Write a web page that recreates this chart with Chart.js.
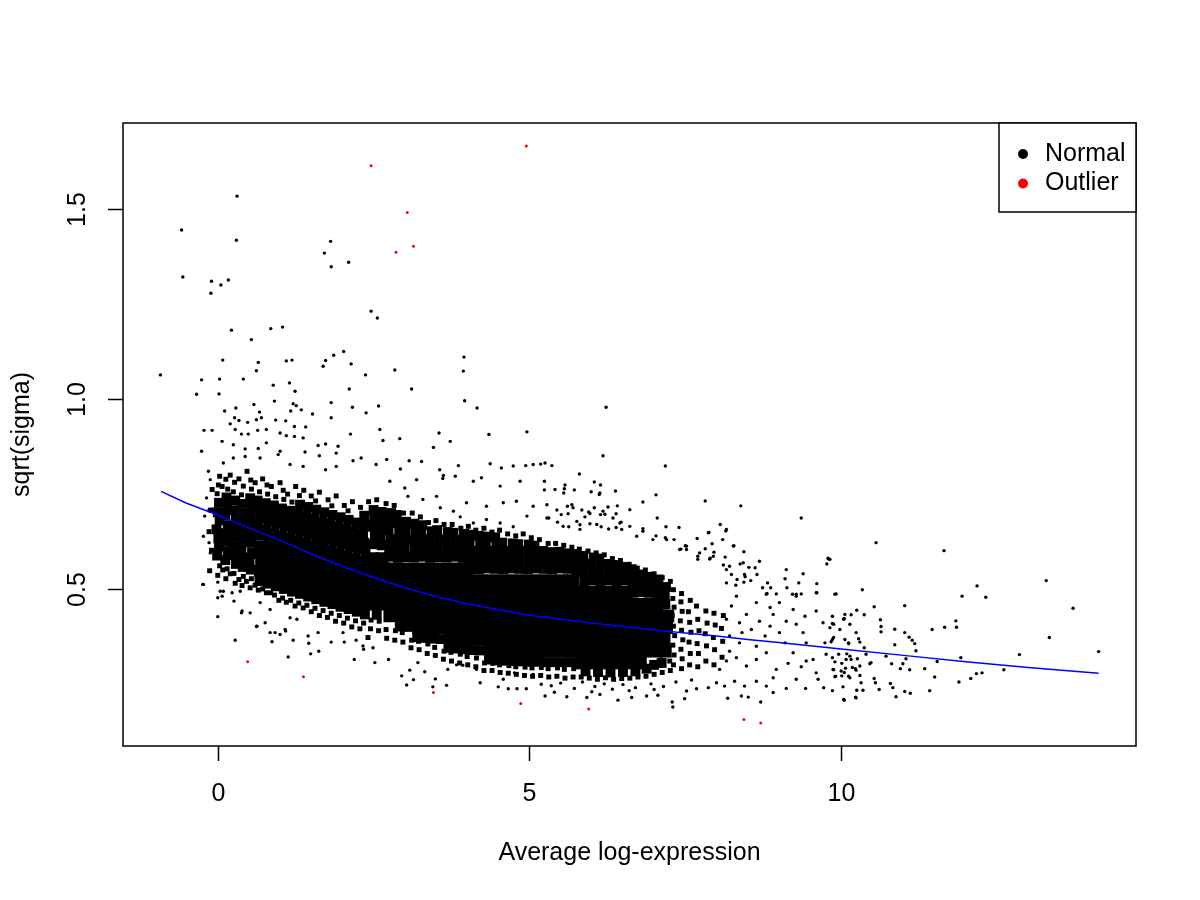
<!DOCTYPE html>
<html>
<head>
<meta charset="utf-8">
<script src="https://cdn.jsdelivr.net/npm/chart.js@4.4.1/dist/chart.umd.min.js"></script>
<style>
  html, body { margin: 0; padding: 0; background: #ffffff; }
  #wrap { width: 1200px; height: 900px; }
</style>
</head>
<body>
<div id="wrap"><canvas id="sa" width="1200" height="900"></canvas></div>
<script>
// plotSA style chart: sqrt(sigma) against average log-expression

var xTicks = [0, 5, 10];
var yTicks = [0.5, 1.0, 1.5];
var xTitle = "Average log-expression";
var yTitle = "sqrt(sigma)";
var legendLabels = ["Normal", "Outlier"];

// outliers (red), flat x,y pairs
var outlierXY = [
  2.46,1.615, 4.95,1.667, 3.04,1.492, 2.86,1.387, 3.14,1.403, 0.48,0.308,
  1.375,0.269, 3.46,0.227, 4.86,0.198, 5.95,0.184, 8.44,0.156, 8.71,0.147
];

// single genes that stand apart from the cloud
var normalXY = [
  0.31,1.535, -0.58,1.446, 0.30,1.419, 1.81,1.416, 1.71,1.385, 1.82,1.349, 2.10,1.361, -0.56,1.322,
  -0.10,1.311, 0.05,1.301, 0.17,1.314, -0.11,1.279, 2.46,1.232, 2.56,1.214, 0.22,1.182, 0.54,1.157,
  0.85,1.186, 1.04,1.190, 0.08,1.103, 0.65,1.097, 1.10,1.101, 1.19,1.103, 1.73,1.102, 1.86,1.116,
  2.02,1.126, 1.69,1.087, 2.14,1.093, 2.37,1.064, 2.84,1.077, 3.95,1.111, 3.94,1.074, -0.92,1.064,
  -0.26,1.051, 0.03,1.053, 0.41,1.053, 0.62,1.075, 0.89,1.037, 1.15,1.043, 1.24,1.021, 2.11,1.027,
  3.11,1.027, -0.34,1.013, 0.02,1.014, 3.96,0.996, 4.16,0.977, 0.58,0.986, 0.29,0.977, 0.91,0.995,
  1.21,0.988, 1.26,0.983, 1.82,0.991, 2.16,0.979, 2.58,0.982, 0.11,0.969, 0.67,0.966, 1.17,0.969,
  1.34,0.972, 1.52,0.961, 2.38,0.964, 1.82,0.951, 0.27,0.951, 0.62,0.946, 0.93,0.945, 1.09,0.943,
  0.70,0.951, 4.96,0.914, 4.35,0.907,
  6.23,0.979, 6.18,0.851, 7.18,0.824, 5.36,0.825, 5.25,0.832, 5.18,0.829, 5.80,0.803, 5.24,0.784,
  5.57,0.774, 6.04,0.782, 6.14,0.774, 5.24,0.761, 5.56,0.764, 5.72,0.761, 5.55,0.753, 5.99,0.756,
  6.12,0.749, 6.38,0.758, 7.03,0.748, 6.82,0.729, 7.82,0.732, 8.39,0.719, 9.36,0.687, 7.05,0.687,
  7.19,0.664, 7.40,0.662, 8.06,0.670, 7.88,0.649, 8.15,0.653, 10.56,0.622, 11.65,0.601, 9.79,0.581,
  8.44,0.598, 8.28,0.614, 8.10,0.630, 7.93,0.619, 7.69,0.633, 7.32,0.630, 7.50,0.614, 7.43,0.605,
  7.82,0.606, 7.96,0.597, 8.14,0.584, 7.90,0.581, 7.18,0.635, 7.03,0.640, 6.82,0.659,
  5.28,0.722, 5.44,0.708, 5.61,0.718, 5.68,0.722, 5.84,0.708, 5.95,0.703, 6.04,0.714, 6.26,0.716,
  6.41,0.719, 6.14,0.696, 6.21,0.697, 6.39,0.698, 5.51,0.696, 5.62,0.698, 5.31,0.687, 5.89,0.690,
  5.76,0.678, 5.97,0.672, 6.15,0.664, 6.27,0.658, 6.47,0.676, 6.48,0.657, 6.39,0.662, 5.81,0.669,
  5.45,0.676, 5.63,0.664,
  13.29,0.522, 12.18,0.508, 11.94,0.481, 12.32,0.478, 13.72,0.449, 13.34,0.372, 14.13,0.335, 12.86,0.327,
  12.61,0.287, 12.26,0.279, 12.17,0.277, 12.08,0.264, 11.89,0.255, 11.92,0.319, 11.50,0.268, 11.42,0.232,
  11.54,0.309, 11.84,0.416, 11.85,0.399, 11.66,0.399, 11.46,0.393, 11.34,0.290, 11.20,0.337, 11.18,0.356,
  11.14,0.365, 11.09,0.373, 11.02,0.385, 10.86,0.394, 10.64,0.387, 10.64,0.401, 10.63,0.419, 10.53,0.453,
  11.02,0.456, 10.37,0.432, 10.25,0.444, 10.34,0.498, 9.92,0.487, 9.82,0.578, 10.86,0.353, 11.04,0.316,
  10.95,0.290, 11.10,0.287, 10.99,0.303, 10.81,0.303, 10.72,0.323, 10.40,0.328, 10.46,0.303, 10.48,0.306,
  10.53,0.264, 10.55,0.253, 10.79,0.251, 10.83,0.240, 10.61,0.235, 11.02,0.230, 11.11,0.225, 10.88,0.216,
  10.25,0.233, 10.35,0.233, 10.24,0.213, 10.05,0.207, 10.03,0.242, 9.86,0.232, 10.32,0.253, 10.30,0.272,
  10.12,0.270, 10.01,0.271, 9.91,0.270, 9.88,0.287, 10.07,0.291, 10.05,0.280, 10.24,0.286, 10.18,0.293,
  10.30,0.297, 10.16,0.314, 10.26,0.316, 10.01,0.304, 9.90,0.308, 9.96,0.328, 10.09,0.329, 10.12,0.356,
  10.28,0.369, 10.30,0.360, 10.37,0.345, 9.88,0.372, 9.84,0.361, 9.88,0.407, 9.86,0.409, 10.05,0.422,
  10.14,0.407, 10.16,0.432, 10.06,0.433,
  9.80,0.579, 9.77,0.566, 9.12,0.551, 9.39,0.540, 9.10,0.527, 9.32,0.516, 9.13,0.503, 9.61,0.514,
  9.61,0.490, 9.36,0.487, 8.82,0.516, 8.87,0.503, 8.69,0.573, 8.62,0.556, 8.65,0.538, 8.38,0.566,
  8.52,0.557, 8.33,0.525, 8.16,0.551, 8.46,0.532, 8.55,0.522, 8.74,0.503, 8.81,0.488, 8.96,0.487,
  9.22,0.486, 9.28,0.486, 7.52,0.604, 7.73,0.595, 7.70,0.586, 7.89,0.579, 8.11,0.563, 8.24,0.538,
  8.45,0.538, 8.16,0.516, 8.31,0.510, 8.44,0.518,
  0.34,0.944, 0.48,0.939, 0.20,0.935, -0.22,0.918, -0.09,0.918, 0.28,0.920, 0.38,0.908, 0.49,0.908,
  0.64,0.918, 0.78,0.920, 1.23,0.928, 1.41,0.927, 1.00,0.911, 1.10,0.904, 1.23,0.902, 1.37,0.898,
  2.13,0.908, 2.60,0.920, 2.92,0.896, 3.55,0.911, 3.46,0.873, 2.65,0.891, -0.26,0.863, 0.07,0.889,
  0.25,0.880, 0.44,0.869, 0.65,0.870, 0.78,0.885, 1.00,0.863, 1.40,0.861, 1.61,0.878, 1.73,0.882,
  1.93,0.876, 1.63,0.851, 1.90,0.858, 2.17,0.838, 2.30,0.845, 2.71,0.841, 3.07,0.838, 3.27,0.836,
  2.93,0.816, 2.54,0.828, 1.73,0.814, 1.90,0.823, 1.37,0.823, 0.09,0.832, 0.25,0.845, 0.44,0.849,
  0.68,0.845, 0.97,0.854, 1.16,0.828, 3.61,0.791, 3.56,0.814, 3.19,0.788, 3.00,0.766, 2.76,0.784,
  3.05,0.744, 3.29,0.736, 3.51,0.744,
  -0.12,0.788, -0.15,0.810, -0.18,0.740, -0.14,0.709, -0.21,0.692, -0.23,0.639, -0.14,0.622, -0.12,0.595,
  -0.23,0.512, 0.00,0.518, 0.09,0.494, 0.07,0.481,
  4.37,0.830, 4.55,0.819, 4.74,0.824, 5.06,0.828, 4.94,0.825, 3.86,0.825, 3.73,0.889, 3.62,0.799,
  3.81,0.797, 4.10,0.784, 4.23,0.793, 4.53,0.771, 4.85,0.784, 5.41,0.762, 6.13,0.753, 6.61,0.709,
  6.82,0.652, 7.87,0.648, 8.16,0.657, 8.27,0.613, 7.41,0.604, 7.52,0.613, 6.34,0.687, 6.45,0.674,
  5.97,0.699, 6.18,0.705, 5.70,0.714, 5.06,0.718, 4.79,0.731, 4.58,0.727, 4.31,0.718, 3.99,0.727,
  3.78,0.705, 3.57,0.714, 4.96,0.692, 5.28,0.687, 4.53,0.674, 4.74,0.664, 4.31,0.683, 4.10,0.674,
  3.89,0.690, 5.54,0.665, 5.81,0.657, 6.08,0.670, 6.61,0.665, 6.72,0.639, 6.98,0.630, 7.20,0.630,
  7.70,0.578, 7.95,0.586, 8.21,0.560, 8.43,0.569,
  0.00,0.427, 0.28,0.365, 0.62,0.401, 0.87,0.361, 1.13,0.321, 1.21,0.365, 1.46,0.357, 1.49,0.329,
  1.62,0.336, 1.82,0.360, 2.03,0.360, 2.19,0.314, 2.22,0.365, 2.34,0.341, 2.52,0.306, 2.74,0.314,
  2.95,0.271, 3.03,0.247, 3.14,0.261, 3.32,0.282, 3.49,0.263, 3.45,0.242, 3.67,0.246, 3.69,0.288,
  4.21,0.253, 4.50,0.242, 4.66,0.237, 4.80,0.237, 4.95,0.237, 5.19,0.249, 3.21,0.306, 3.08,0.286,
  3.83,0.300, 3.93,0.299, 4.15,0.288, 4.58,0.262, 4.76,0.279, 5.06,0.275, 0.00,0.477, 0.38,0.437,
  0.52,0.437, 0.26,0.468, 0.84,0.385, 0.92,0.385, 1.00,0.380, 1.09,0.389, 1.45,0.376, 1.61,0.385,
  2.01,0.385, 2.33,0.350, 2.49,0.345,
  -0.24,0.512, 0.04,0.494, 0.23,0.490, 0.36,0.494, 0.39,0.442, 0.63,0.402, 0.76,0.411, 1.08,0.393,
  1.27,0.420, 1.16,0.424, 0.68,0.464, 0.84,0.446,
  5.25,0.218, 5.60,0.216, 5.92,0.214, 6.13,0.222, 6.42,0.207, 6.64,0.214, 6.88,0.218, 7.06,0.220,
  7.29,0.202, 7.30,0.189, 7.49,0.211, 8.18,0.212, 8.40,0.218, 8.51,0.215, 8.71,0.202, 8.91,0.227,
  9.12,0.238, 9.43,0.238, 9.72,0.240, 10.04,0.209, 10.23,0.215, 9.28,0.262, 9.63,0.262, 9.90,0.269,
  10.14,0.266, 10.23,0.290, 10.00,0.284, 9.87,0.288, 9.60,0.279, 9.36,0.295, 9.15,0.304, 8.96,0.288,
  8.91,0.266, 8.80,0.244, 8.64,0.257, 8.45,0.244, 8.29,0.257, 8.13,0.244, 8.00,0.253, 7.87,0.240,
  7.68,0.237, 7.52,0.231, 9.44,0.310, 9.55,0.314, 9.76,0.328, 9.86,0.319, 10.08,0.314, 9.74,0.358,
  9.86,0.367, 10.12,0.358, 10.24,0.385, 10.04,0.420, 9.86,0.428, 9.60,0.442, 9.90,0.486, 9.60,0.490,
  9.42,0.428, 9.28,0.407, 9.39,0.385, 9.44,0.358, 9.23,0.332, 9.10,0.358, 9.01,0.385, 9.12,0.415,
  9.23,0.446, 9.01,0.464, 9.28,0.481, 8.91,0.433, 8.86,0.402, 8.78,0.376, 8.80,0.332, 8.64,0.314,
  8.48,0.297, 8.32,0.319, 8.64,0.349, 8.56,0.393, 8.69,0.415, 8.86,0.451, 8.64,0.464, 8.48,0.433,
  8.37,0.411, 8.41,0.385, 8.37,0.358, 8.21,0.336, 8.16,0.310, 8.05,0.288, 8.24,0.455, 8.32,0.481,
  8.16,0.420, 8.21,0.376, 8.80,0.486, 9.71,0.411, 9.82,0.398, 9.98,0.393, 10.06,0.367, 10.14,0.323,
  5.35,0.245, 5.50,0.252, 5.72,0.238, 5.85,0.255, 6.05,0.243, 6.20,0.250, 6.33,0.236, 6.50,0.248,
  6.70,0.240, 6.95,0.250, 7.15,0.243, 7.35,0.255, 7.60,0.260, 5.40,0.228, 6.00,0.229, 6.60,0.232,
  7.00,0.235
];

// the thinner rim of the cloud
var fringeXY = [
  -0.13,.548, -0.10,.602, -0.14,.651, -0.11,.708, -0.09,.762,
  0.00,.536, 0.03,.561, -0.01,.751, 0.01,.774, 0.03,.797,
  0.13,.527, 0.15,.553, 0.16,.763, 0.13,.789,
  0.28,.515, 0.26,.541, 0.25,.756, 0.27,.781,
  0.39,.509, 0.41,.533, 0.38,.748, 0.41,.771,
  0.52,.503, 0.54,.527, 0.54,.763, 0.53,.787,
  0.65,.497, 0.67,.756, 0.78,.490, 0.80,.750, 0.79,.774,
  0.91,.484, 0.93,.743, 1.04,.476, 1.06,.736, 1.05,.760,
  1.17,.470, 1.19,.729, 1.30,.463, 1.31,.746,
  1.43,.457, 1.57,.732, 1.56,.449, 1.69,.443, 1.83,.719, 1.82,.436,
  1.95,.430, 2.09,.706, 2.08,.423, 2.21,.416, 2.34,.410,
  0.07,.770, 0.20,.800, 0.34,.790, 0.47,.810, 0.60,.780, 0.72,.790, 0.86,.770, 1.00,.780,
  1.12,.750, 1.25,.770, 1.38,.760, 1.50,.745, 1.63,.755, 1.77,.735, 1.90,.745, 2.03,.720,
  2.16,.730, 2.29,.715, 2.42,.730,
  0.08,.550, 0.20,.540, 0.34,.525, 0.46,.520, 0.60,.510, 0.72,.500, 0.85,.490, 0.98,.470,
  1.10,.465, 1.24,.455, 1.37,.450, 1.50,.440, 1.63,.430, 1.76,.425, 1.89,.415, 2.02,.410,
  2.15,.400, 2.28,.395, 2.41,.372,
  2.55,.735, 2.70,.725, 2.83,.720, 2.98,.700, 3.12,.700, 3.25,.690, 3.38,.675, 3.50,.680,
  3.63,.670, 3.76,.670, 3.90,.660, 4.02,.665, 4.14,.655, 4.27,.660, 4.40,.650, 4.52,.655,
  4.65,.645, 4.78,.640, 4.90,.645, 5.03,.635, 5.16,.630, 5.30,.620, 5.42,.620, 5.55,.615,
  5.68,.610, 5.80,.605, 5.94,.600, 6.07,.595, 6.20,.590, 6.33,.580, 6.46,.575, 6.60,.565,
  6.73,.555, 6.86,.550, 7.00,.540, 7.13,.530, 7.26,.520,
  7.31,.300, 7.32,.326, 7.30,.352, 7.33,.377, 7.31,.402, 7.29,.430, 7.32,.452, 7.30,.475, 7.31,.498,
  7.44,.290, 7.45,.316, 7.43,.341, 7.46,.366, 7.44,.391, 7.42,.416, 7.45,.441, 7.43,.466, 7.44,.488,
  7.57,.300, 7.58,.330, 7.56,.360, 7.59,.386, 7.57,.412, 7.55,.440, 7.58,.470,
  7.70,.295, 7.71,.330, 7.69,.356, 7.72,.390, 7.70,.420, 7.68,.455,
  7.83,.310, 7.84,.350, 7.82,.382, 7.85,.410, 7.83,.442,
  7.96,.300, 7.97,.340, 7.95,.372, 7.98,.405, 7.96,.436,
  8.09,.320, 8.10,.362, 8.08,.396, 8.11,.430,
  2.45,.395, 2.46,.418, 2.58,.390, 2.59,.415, 2.71,.370, 2.70,.393, 2.84,.365, 2.85,.390,
  2.97,.360, 2.96,.385, 3.10,.345, 3.11,.365, 3.23,.340, 3.22,.362, 3.36,.330, 3.37,.355,
  3.49,.325, 3.48,.346, 3.62,.315, 3.63,.336, 3.75,.310, 3.74,.333, 3.88,.305, 3.89,.328,
  4.01,.300, 4.00,.322, 4.14,.295, 4.15,.318, 4.27,.285, 4.28,.305, 4.40,.285, 4.41,.304,
  4.53,.280, 4.52,.300, 4.66,.278, 4.67,.298, 4.79,.275, 4.78,.295, 4.92,.272, 4.93,.294,
  5.05,.270, 5.04,.292, 5.18,.272, 5.19,.293, 5.31,.268, 5.30,.290, 5.44,.270, 5.45,.292,
  5.57,.265, 5.56,.288, 5.70,.268, 5.71,.290, 5.83,.268, 5.96,.265, 6.09,.262, 6.22,.266,
  6.35,.262, 6.48,.264, 6.61,.265, 6.74,.268, 6.87,.270, 6.88,.290, 7.00,.275, 7.01,.298,
  7.13,.280, 7.14,.302, 7.26,.285, 7.25,.310
];

// the crowded band
var bandXY = [
  -0.01,.588, 0.02,.612, 0.01,.633, -0.02,.657, 0.03,.681, 0.00,.702, 0.02,.727,
  0.12,.576, 0.16,.598, 0.14,.624, 0.13,.647, 0.16,.668, 0.12,.694, 0.15,.716, 0.14,.741,
  0.29,.566, 0.27,.589, 0.25,.612, 0.28,.637, 0.27,.661, 0.29,.684, 0.26,.707, 0.28,.733,
  0.40,.558, 0.42,.583, 0.38,.604, 0.40,.629, 0.41,.652, 0.39,.676, 0.42,.699, 0.40,.724,
  0.53,.551, 0.51,.574, 0.55,.597, 0.53,.623, 0.52,.645, 0.54,.668, 0.53,.692, 0.55,.716, 0.52,.739,
  0.67,.521, 0.66,.545, 0.68,.568, 0.64,.592, 0.66,.615, 0.67,.641, 0.65,.662, 0.68,.686, 0.66,.709, 0.64,.733,
  0.80,.514, 0.79,.538, 0.81,.561, 0.77,.585, 0.79,.608, 0.80,.632, 0.78,.655, 0.81,.679, 0.79,.703, 0.77,.726,
  0.93,.507, 0.92,.531, 0.94,.555, 0.90,.578, 0.92,.602, 0.93,.625, 0.91,.649, 0.94,.672, 0.92,.696, 0.90,.720,
  1.06,.500, 1.05,.523, 1.07,.547, 1.03,.571, 1.05,.594, 1.06,.618, 1.04,.641, 1.07,.665, 1.05,.689, 1.03,.712,
  1.19,.493, 1.18,.517, 1.20,.541, 1.16,.564, 1.18,.588, 1.19,.611, 1.17,.635, 1.20,.658, 1.18,.682, 1.16,.706,
  1.32,.487, 1.31,.510, 1.33,.534, 1.29,.557, 1.31,.581, 1.32,.605, 1.30,.628, 1.33,.652, 1.31,.675, 1.29,.699, 1.32,.722,
  1.45,.480, 1.44,.504, 1.46,.527, 1.42,.551, 1.44,.574, 1.45,.598, 1.43,.622, 1.46,.645, 1.44,.669, 1.42,.692, 1.45,.716,
  1.58,.473, 1.57,.497, 1.59,.520, 1.55,.544, 1.57,.567, 1.58,.591, 1.56,.614, 1.59,.638, 1.57,.662, 1.55,.685, 1.58,.709,
  1.71,.466, 1.70,.490, 1.72,.513, 1.68,.537, 1.70,.561, 1.71,.584, 1.69,.608, 1.72,.631, 1.70,.655, 1.68,.678, 1.71,.702,
  1.84,.460, 1.83,.483, 1.85,.507, 1.81,.530, 1.83,.554, 1.84,.578, 1.82,.601, 1.85,.625, 1.83,.648, 1.81,.672, 1.84,.695,
  1.97,.453, 1.96,.477, 1.98,.500, 1.94,.524, 1.96,.547, 1.97,.571, 1.95,.595, 1.98,.618, 1.96,.642, 1.94,.665, 1.97,.689,
  2.10,.447, 2.09,.470, 2.11,.494, 2.07,.517, 2.09,.541, 2.10,.564, 2.08,.588, 2.11,.611, 2.09,.635, 2.07,.659, 2.10,.682,
  2.23,.440, 2.22,.463, 2.24,.487, 2.20,.511, 2.22,.534, 2.23,.558, 2.21,.581, 2.24,.605, 2.22,.628, 2.20,.652, 2.23,.675,
  2.36,.433, 2.35,.457, 2.37,.481, 2.33,.504, 2.35,.528, 2.36,.551, 2.34,.575, 2.37,.598, 2.35,.622, 2.33,.645, 2.36,.669, 2.35,.693,
  2.50,.618, 2.52,.642, 2.49,.664, 2.51,.688, 2.50,.708,
  2.63,.615, 2.61,.637, 2.64,.661, 2.62,.684, 2.63,.703,
  2.76,.585, 2.75,.608, 2.77,.631, 2.74,.655, 2.76,.678, 2.78,.700,
  2.89,.582, 2.90,.606, 2.88,.629, 2.91,.652, 2.89,.674, 2.87,.695,
  3.02,.584, 3.00,.607, 3.03,.630, 3.01,.653, 3.02,.677,
  3.15,.583, 3.16,.605, 3.14,.628, 3.17,.652, 3.15,.672,
  3.28,.585, 3.27,.608, 3.29,.630, 3.26,.654, 3.28,.668,
  3.41,.582, 3.42,.606, 3.40,.630, 3.43,.652,
  3.54,.584, 3.53,.607, 3.55,.630, 3.52,.655,
  3.67,.583, 3.68,.606, 3.66,.628, 3.69,.650,
  3.80,.585, 3.79,.608, 3.81,.630, 3.78,.648,
  3.93,.582, 3.94,.605, 3.92,.627, 3.95,.645,
  4.06,.553, 4.05,.576, 4.07,.600, 4.04,.622, 4.06,.643,
  4.19,.552, 4.20,.575, 4.18,.598, 4.21,.620, 4.19,.640,
  4.32,.554, 4.31,.577, 4.33,.600, 4.30,.622, 4.32,.638,
  4.45,.553, 4.46,.575, 4.44,.598, 4.47,.620, 4.45,.636,
  4.58,.552, 4.57,.576, 4.59,.600, 4.56,.622,
  4.71,.554, 4.72,.577, 4.70,.600, 4.73,.620,
  4.84,.553, 4.83,.575, 4.85,.598, 4.82,.618,
  4.97,.552, 4.98,.576, 4.96,.600, 4.99,.617,
  5.10,.554, 5.09,.577, 5.11,.598, 5.08,.614,
  5.23,.553, 5.24,.576, 5.22,.600,
  5.36,.552, 5.35,.575, 5.37,.597,
  5.49,.554, 5.50,.577, 5.48,.598,
  5.62,.553, 5.61,.575, 5.63,.594,
  5.75,.550, 5.76,.572, 5.74,.592,
  5.88,.520, 5.87,.543, 5.89,.566, 5.86,.587,
  6.01,.522, 6.02,.545, 6.00,.567, 6.03,.583,
  6.14,.520, 6.13,.543, 6.15,.565, 6.12,.580,
  6.27,.522, 6.28,.544, 6.26,.566,
  6.40,.520, 6.39,.543, 6.41,.563,
  6.53,.522, 6.54,.545, 6.52,.558,
  6.66,.490, 6.65,.513, 6.67,.536, 6.64,.552,
  6.79,.492, 6.80,.515, 6.78,.538,
  6.92,.490, 6.91,.512, 6.93,.532,
  7.05,.460, 7.06,.483, 7.04,.506, 7.07,.525,
  7.18,.460, 7.17,.482, 7.19,.505,
  2.55,.432, 2.92,.401, 3.05,.400, 3.20,.373, 3.33,.371, 3.46,.369, 3.58,.368,
  3.70,.345, 3.83,.343, 3.96,.341, 4.09,.339, 4.22,.338,
  4.35,.314, 4.48,.312, 4.61,.311, 4.74,.310, 4.87,.309, 5.00,.308, 5.13,.308, 5.26,.307,
  5.39,.307, 5.52,.307, 5.65,.307, 5.75,.307,
  5.90,.283, 6.10,.281, 6.30,.280, 6.50,.281, 6.70,.283, 6.88,.290, 7.00,.300, 7.12,.305
];

// the saturated core, read as rows of overlapping marks
var coreRowY = [0.305, 0.336, 0.367, 0.398, 0.429, 0.460, 0.491, 0.522, 0.553, 0.580];
var coreRowX = [
  [5.85, 6.04, 6.23, 6.42, 6.61, 6.78],
  [4.38, 4.57, 4.76, 4.95, 5.14, 5.33, 5.52, 5.71, 5.90, 6.09, 6.28, 6.47, 6.66, 6.85, 7.04, 7.18],
  [3.74, 3.93, 4.12, 4.31, 4.50, 4.69, 4.88, 5.07, 5.26, 5.45, 5.64, 5.83, 6.02, 6.21, 6.40, 6.59, 6.78, 6.97, 7.16],
  [3.22, 3.41, 3.60, 3.79, 3.98, 4.17, 4.36, 4.55, 4.74, 4.93, 5.12, 5.31, 5.50, 5.69, 5.88, 6.07, 6.26, 6.45, 6.64, 6.83, 7.02, 7.20],
  [2.76, 2.95, 3.14, 3.33, 3.52, 3.71, 3.90, 4.09, 4.28, 4.47, 4.66, 4.85, 5.04, 5.23, 5.42, 5.61, 5.80, 5.99, 6.18, 6.37, 6.56, 6.75, 6.94, 7.13, 7.22],
  [2.48, 2.67, 2.86, 3.05, 3.24, 3.43, 3.62, 3.81, 4.00, 4.19, 4.38, 4.57, 4.76, 4.95, 5.14, 5.33, 5.52, 5.71, 5.90, 6.09, 6.28, 6.47, 6.66, 6.85, 7.04],
  [2.48, 2.67, 2.86, 3.05, 3.24, 3.43, 3.62, 3.81, 4.00, 4.19, 4.38, 4.57, 4.76, 4.95, 5.14, 5.33, 5.52, 5.71, 5.90, 6.09, 6.28, 6.47, 6.55],
  [2.48, 2.67, 2.86, 3.05, 3.24, 3.43, 3.62, 3.81, 4.00, 4.19, 4.38, 4.57, 4.76, 4.95, 5.14, 5.33, 5.52, 5.70],
  [2.48, 2.67, 2.86, 3.05, 3.24, 3.43, 3.62, 3.81, 4.00],
  [2.48, 2.64]
];

// fitted trend (blue)
var trendX = [-0.91, -0.5, 0.0, 0.5, 1.0, 1.5, 2.0, 2.5, 3.0, 3.5, 4.0, 4.5, 5.0, 5.5, 6.0, 6.5, 7.0, 7.5, 8.0, 8.5, 9.0, 10.0, 11.0, 12.0, 13.0, 14.13];
var trendY = [0.757, 0.726, 0.695, 0.661, 0.628, 0.592, 0.559, 0.530, 0.503, 0.480, 0.461, 0.445, 0.431, 0.420, 0.410, 0.401, 0.392, 0.384, 0.376, 0.367, 0.359, 0.342, 0.325, 0.308, 0.293, 0.278];

function toPoints(flat) {
  var out = [];
  for (var i = 0; i < flat.length; i += 2) out.push({x: flat[i], y: flat[i + 1]});
  return out;
}

function corePoints() {
  var out = [];
  coreRowY.forEach(function(y, r) {
    coreRowX[r].forEach(function(x) { out.push({x: x, y: y}); });
  });
  return out;
}

var trendPts = trendX.map(function(x, i) { return {x: x, y: trendY[i]}; });

var FONT = '25px "Liberation Sans", Arial, Helvetica, sans-serif';

// R-like frame, ticks, labels and legend
var baseAxes = {
  id: "baseAxes",
  afterDraw: function(chart) {
    var ctx = chart.ctx;
    var a = chart.chartArea;
    var sx = chart.scales.x, sy = chart.scales.y;
    ctx.save();
    ctx.strokeStyle = "#000";
    ctx.fillStyle = "#000";
    ctx.lineWidth = 1.5;
    ctx.strokeRect(a.left, a.top, a.right - a.left, a.bottom - a.top);

    ctx.font = FONT;
    ctx.textAlign = "center";
    ctx.textBaseline = "middle";

    xTicks.forEach(function(v) {
      var px = Math.round(sx.getPixelForValue(v)) + 0.5;
      ctx.beginPath();
      ctx.moveTo(px, a.bottom);
      ctx.lineTo(px, a.bottom + 15);
      ctx.stroke();
      ctx.fillText(String(v), px, a.bottom + 48);
    });

    yTicks.forEach(function(v) {
      var py = Math.round(sy.getPixelForValue(v)) + 0.5;
      ctx.beginPath();
      ctx.moveTo(a.left, py);
      ctx.lineTo(a.left - 15, py);
      ctx.stroke();
      ctx.save();
      ctx.translate(a.left - 45, py);
      ctx.rotate(-Math.PI / 2);
      ctx.fillText(v.toFixed(1), 0, 0);
      ctx.restore();
    });

    ctx.fillText(xTitle, (a.left + a.right) / 2, a.bottom + 107);
    ctx.save();
    ctx.translate(a.left - 101, (a.top + a.bottom) / 2);
    ctx.rotate(-Math.PI / 2);
    ctx.fillText(yTitle, 0, 0);
    ctx.restore();

    // legend, top right corner of the plot box
    var lw = 137, lh = 89;
    var lx = a.right - lw, ly = a.top;
    ctx.fillStyle = "#fff";
    ctx.fillRect(lx, ly, lw, lh);
    ctx.strokeRect(lx, ly, lw, lh);
    var cols = ["#000000", "#ff0000"];
    legendLabels.forEach(function(lab, i) {
      var cy = ly + 31 + i * 29.5;
      ctx.fillStyle = cols[i];
      ctx.beginPath();
      ctx.arc(lx + 24, cy, 5, 0, Math.PI * 2);
      ctx.fill();
      ctx.fillStyle = "#000";
      ctx.textAlign = "left";
      ctx.fillText(lab, lx + 46, cy);
    });
    ctx.restore();
  }
};

new Chart(document.getElementById("sa"), {
  type: "scatter",
  data: {
    datasets: [
      { label: "trend", data: trendPts, showLine: true, borderColor: "#0000ff", borderWidth: 1.5,
        pointRadius: 0, fill: false, tension: 0 },
      { label: "Outlier", data: toPoints(outlierXY), backgroundColor: "#ff0000",
        pointRadius: 1.5, borderWidth: 0 },
      { label: "Normal", data: toPoints(normalXY), backgroundColor: "#000000",
        pointRadius: 1.7, borderWidth: 0 },
      { label: "Normal rim", data: toPoints(fringeXY), backgroundColor: "#000000",
        pointStyle: "rect", pointRadius: 3.5, borderWidth: 0 },
      { label: "Normal band", data: toPoints(bandXY), backgroundColor: "#000000",
        pointStyle: "rect", pointRadius: 7, borderWidth: 0 },
      { label: "Normal core", data: corePoints(), backgroundColor: "#000000",
        pointStyle: "rect", pointRadius: 9, borderWidth: 0 }
    ]
  },
  options: {
    responsive: false,
    animation: false,
    devicePixelRatio: 1,
    events: [],
    layout: { padding: { left: 123, top: 123, right: 64, bottom: 154 } },
    plugins: { legend: { display: false }, tooltip: { enabled: false } },
    scales: {
      x: { type: "linear", min: -1.52, max: 14.73, display: false },
      y: { type: "linear", min: 0.0862, max: 1.7278, display: false }
    }
  },
  plugins: [baseAxes]
});
</script>
</body>
</html>
